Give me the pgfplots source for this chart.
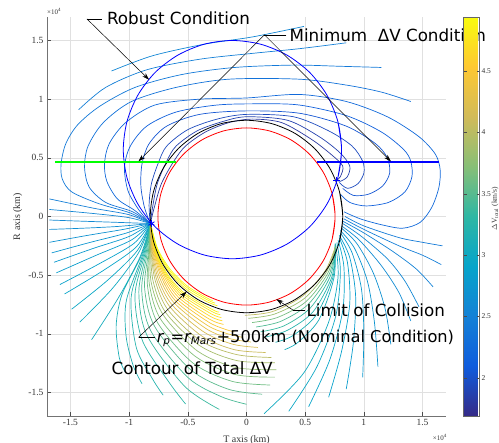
\documentclass[border=0pt]{standalone}
\usepackage{fontspec}
\setmainfont{Liberation Serif}
\newfontfamily\annfont{DejaVu Sans}
\usepackage{pgfplots}
\pgfplotsset{compat=1.18}
\usepgfplotslibrary{polar}
\usetikzlibrary{arrows.meta}

\definecolor{robgreen}{rgb}{0,1,0}
\definecolor{robblue}{rgb}{0,0,1}
\pgfplotsset{
  colormap={parula}{rgb255=(53,42,135) rgb255=(15,92,221) rgb255=(20,129,214)
    rgb255=(6,164,202) rgb255=(46,183,164) rgb255=(135,191,119)
    rgb255=(209,187,89) rgb255=(254,200,50) rgb255=(249,251,14)},
  ct/.style={color of colormap={#1}, line width=0.7pt, smooth, no markers},
}
% contour line, cartesian / polar (angle, radius) input
\newcommand\cc[2]{\addplot[ct=#1] coordinates {#2};}
\newcommand\cp[2]{\addplot[ct=#1, data cs=polar] coordinates {#2};}
\newcommand\ann{\annfont\fontsize{16.8}{20}\selectfont}
\newcommand\sub[1]{\textsubscript{\fontsize{10.5}{11}\selectfont\itshape #1}}
\tikzset{arr/.style={-{Stealth[length=7bp,width=4.5bp]}, line width=0.5pt, black}}

\begin{document}
\begin{tikzpicture}
\useasboundingbox (-47bp,-27bp) rectangle (452bp,416bp);
\begin{axis}[
  at={(0,0)}, anchor=south west,
  scale only axis, width=399bp, height=399bp,
  xmin=-1.7, xmax=1.7, ymin=-1.7, ymax=1.7,
  axis x line*=bottom, axis y line*=left,
  axis line style={black!55, line width=0.8pt},
  tick align=inside, major tick length=4bp,
  tick style={black!70},
  xtick={-1.5,-1,...,1.5}, ytick={-1.5,-1,...,1.5},
  grid=major, grid style={black!12, line width=0.5pt},
  ticklabel style={font=\fontsize{9.5}{11}\selectfont, text=black!80},
  /pgf/number format/assume math mode=true,
  xlabel={T axis (km)}, ylabel={R axis (km)},
  label style={font=\fontsize{10}{12}\selectfont, text=black!80},
  x label style={at={(axis description cs:0.5,-0.04)}, anchor=north},
  y label style={at={(axis description cs:-0.053,0.5)}, anchor=south},
  clip=false,
  colormap name=parula,
  point meta min=1.69, point meta max=4.94,
  colorbar,
  colorbar style={
    at={(parent axis.north east)}, anchor=north west, xshift=9bp,
    scale only axis, width=16bp, height=399bp,
    ytick={2,2.5,3,3.5,4,4.5},
    yticklabel style={font=\fontsize{7.5}{9}\selectfont, text=black!80, xshift=-1.5bp,
      /pgf/number format/assume math mode=true},
    ylabel={$\Delta$V\textsubscript{total} (km/s)},
    ylabel style={font=\fontsize{7.5}{9}\selectfont, text=black!80,
      at={(axis description cs:1.97,0.52)}, anchor=center},
    axis line style={black!60}, major tick length=3bp,
  },
]

% ---- upper loops (P1 -> over the top -> right hook)
\cc{35}{(-0.82,-0.06) (-0.785,0.08) (-0.725,0.28) (-0.62,0.47) (-0.52,0.6) (-0.35,0.72) (-0.15,0.8) (0.05,0.83) (0.3,0.8) (0.55,0.66) (0.72,0.53) (0.82,0.43) (0.8,0.34) (0.77,0.31)}
\cc{55}{(-0.82,-0.06) (-0.8,0.08) (-0.76,0.28) (-0.68,0.47) (-0.6,0.6) (-0.42,0.73) (-0.2,0.81) (0,0.85) (0.35,0.82) (0.62,0.68) (0.8,0.54) (0.88,0.43) (0.86,0.34) (0.8,0.3) (0.77,0.31)}
\cc{80}{(-0.82,-0.06) (-0.83,0.1) (-0.81,0.28) (-0.75,0.46) (-0.68,0.6) (-0.5,0.74) (-0.25,0.83) (0,0.87) (0.4,0.85) (0.7,0.73) (0.9,0.6) (0.99,0.47) (1.0,0.37) (0.95,0.28) (0.86,0.24) (0.79,0.29)}
\cc{110}{(-0.82,-0.06) (-0.87,0.08) (-0.9,0.26) (-0.89,0.45) (-0.83,0.62) (-0.68,0.77) (-0.4,0.87) (0,0.9) (0.45,0.88) (0.85,0.77) (1.1,0.62) (1.2,0.5) (1.22,0.37) (1.16,0.26) (1.04,0.19) (0.91,0.18) (0.82,0.24)}
\cc{140}{(-0.82,-0.06) (-0.92,0.06) (-1.01,0.22) (-1.04,0.42) (-0.99,0.6) (-0.85,0.77) (-0.6,0.89) (-0.25,0.95) (0.1,0.96) (0.45,0.95) (0.85,0.86) (1.15,0.72) (1.34,0.57) (1.4,0.47) (1.41,0.34) (1.35,0.21) (1.21,0.12) (1.02,0.09) (0.88,0.12) (0.8,0.19)}
\cc{170}{(-0.82,-0.06) (-0.95,0.05) (-1.1,0.15) (-1.19,0.3) (-1.21,0.45) (-1.17,0.62) (-1.03,0.8) (-0.78,0.95) (-0.4,1.0) (0,1.01) (0.45,1.04) (0.85,0.98) (1.2,0.85) (1.47,0.68) (1.61,0.53) (1.65,0.4) (1.64,0.25) (1.58,0.08) (1.48,-0.05) (1.33,-0.1) (1.15,-0.07) (0.97,-0.02) (0.83,0.04)}
\cc{200}{(-0.82,-0.06) (-0.97,0.04) (-1.2,0.12) (-1.34,0.25) (-1.38,0.42) (-1.35,0.6) (-1.22,0.8) (-0.98,0.98) (-0.6,1.1) (-0.15,1.17) (0.45,1.17) (0.85,1.12) (1.15,1.06) (1.4,0.98)}
\cc{222}{(-0.82,-0.06) (-0.99,0.03) (-1.26,0.11) (-1.49,0.21) (-1.57,0.32) (-1.58,0.45) (-1.54,0.62) (-1.44,0.78) (-1.25,0.94) (-0.95,1.1) (-0.55,1.21) (-0.1,1.27) (0.4,1.29) (0.8,1.28) (1.15,1.27)}
\cc{245}{(-0.82,-0.06) (-1.0,0.015) (-1.3,0.07) (-1.68,0.15)}
\cc{245}{(-1.43,0.91) (-1.2,1.1) (-0.85,1.25) (-0.4,1.34) (0.05,1.39) (0.45,1.43) (0.85,1.48)}
\cc{268}{(-0.82,-0.06) (-1.0,-0.01) (-1.3,0.025) (-1.68,0.06)}
\cc{268}{(-1.15,1.24) (-0.8,1.37) (-0.35,1.47) (0.05,1.53) (0.49,1.62)}
\cc{280}{(-0.82,-0.06) (-1.1,-0.05) (-1.4,-0.04) (-1.68,-0.03)}

% ---- lower-left rays from P1
\cc{295}{(-0.82,-0.06) (-1.1,-0.085) (-1.4,-0.1) (-1.68,-0.11)}
\cc{308}{(-0.82,-0.06) (-1.05,-0.11) (-1.35,-0.16) (-1.68,-0.22)}
\cc{322}{(-0.82,-0.06) (-1.02,-0.14) (-1.33,-0.22) (-1.66,-0.31)}
\cc{336}{(-0.82,-0.06) (-1.0,-0.17) (-1.3,-0.27) (-1.64,-0.39)}
\cc{350}{(-0.82,-0.06) (-0.98,-0.2) (-1.28,-0.33) (-1.62,-0.48)}
\cc{364}{(-0.82,-0.06) (-0.96,-0.23) (-1.25,-0.4) (-1.59,-0.58)}
\cc{378}{(-0.82,-0.06) (-0.94,-0.26) (-1.22,-0.46) (-1.55,-0.66)}
\cc{392}{(-0.82,-0.06) (-0.93,-0.29) (-1.18,-0.54) (-1.49,-0.79)}
\cc{406}{(-0.82,-0.06) (-0.92,-0.31) (-1.14,-0.61) (-1.42,-0.9)}
\cc{420}{(-0.82,-0.06) (-0.905,-0.34) (-1.09,-0.69) (-1.32,-1.05)}

% ---- lower arcs from P1 (angle, radius)
\cp{440}{(184,0.82) (200,0.95) (212,1.25) (220,1.45) (228,1.62) (232,1.68)}
\cp{455}{(184,0.82) (200,0.94) (215,1.25) (225,1.45) (233,1.6) (238,1.68)}
\cp{472}{(184,0.82) (200,0.93) (215,1.2) (230,1.46) (240,1.6) (245,1.68)}
\cp{492}{(184,0.82) (200,0.92) (215,1.16) (230,1.38) (245,1.56) (252,1.68)}
\cp{515}{(184,0.82) (200,0.91) (215,1.12) (230,1.32) (250,1.54) (262,1.66)}
\cp{540}{(184,0.82) (200,0.90) (215,1.09) (230,1.27) (250,1.46) (262,1.55) (270,1.6)}
\cp{565}{(184,0.82) (200,0.89) (215,1.06) (230,1.22) (250,1.39) (264,1.48) (275,1.52)}
\cp{592}{(184,0.82) (200,0.885) (215,1.03) (230,1.18) (250,1.33) (265,1.41) (278,1.45)}
\cp{620}{(184,0.82) (200,0.88) (215,1.01) (230,1.14) (250,1.27) (266,1.35) (280,1.39)}
\cp{650}{(184,0.82) (200,0.875) (215,0.99) (230,1.1) (250,1.22) (266,1.29) (281,1.33)}
\cp{680}{(184,0.82) (200,0.87) (215,0.97) (230,1.07) (250,1.17) (266,1.23) (281,1.27)}
\cp{710}{(184,0.82) (200,0.865) (215,0.95) (230,1.04) (250,1.13) (266,1.18) (280,1.22)}
\cp{740}{(184,0.82) (200,0.86) (215,0.935) (230,1.01) (250,1.09) (265,1.14) (278,1.17)}
\cp{770}{(184,0.82) (200,0.855) (215,0.92) (230,0.985) (250,1.05) (264,1.095) (275,1.12)}
\cp{800}{(184,0.82) (200,0.85) (215,0.905) (230,0.96) (250,1.015) (262,1.05) (272,1.07)}
\cp{830}{(184,0.82) (200,0.845) (215,0.89) (230,0.94) (250,0.985) (260,1.01) (268,1.03)}
\cp{860}{(184,0.82) (200,0.84) (215,0.878) (230,0.92) (250,0.955) (258,0.975) (264,0.99)}
\cp{885}{(184,0.82) (200,0.837) (215,0.866) (230,0.9) (250,0.93) (258,0.94)}
\cp{910}{(184,0.82) (200,0.834) (215,0.856) (230,0.882) (250,0.905) (257,0.912)}
\cp{935}{(184,0.82) (200,0.831) (215,0.848) (230,0.866) (250,0.882) (256,0.887)}
\cp{955}{(184,0.82) (200,0.828) (215,0.84) (230,0.852) (250,0.862) (255,0.865)}
\cp{972}{(184,0.82) (200,0.825) (215,0.833) (230,0.84) (250,0.845) (254,0.847)}
\cp{985}{(184,0.82) (200,0.815) (215,0.81) (230,0.805) (245,0.8) (252,0.8)}
\cp{993}{(184,0.82) (200,0.81) (215,0.8) (230,0.79) (245,0.785) (250,0.785)}
\cp{1000}{(184,0.82) (200,0.805) (215,0.79) (230,0.778) (245,0.772) (248,0.772)}

% ---- lower-right rays from P2
\cc{225}{(0.84,0.0) (1.0,-0.08) (1.3,-0.18) (1.5,-0.22) (1.67,-0.25)}
\cc{240}{(0.83,-0.02) (1.0,-0.11) (1.3,-0.25) (1.5,-0.33) (1.66,-0.41)}
\cc{255}{(0.82,-0.04) (1.0,-0.14) (1.25,-0.3) (1.45,-0.45) (1.59,-0.6)}
\cc{271}{(0.82,-0.06) (0.98,-0.17) (1.2,-0.36) (1.35,-0.55) (1.47,-0.77)}
\cc{286}{(0.81,-0.08) (0.96,-0.2) (1.15,-0.42) (1.3,-0.65) (1.4,-0.89)}
\cc{302}{(0.81,-0.1) (0.94,-0.23) (1.08,-0.48) (1.18,-0.78) (1.23,-1.09)}
\cc{317}{(0.8,-0.12) (0.92,-0.27) (1.03,-0.55) (1.09,-0.9) (1.12,-1.28)}
\cc{332}{(0.8,-0.14) (0.9,-0.31) (0.98,-0.62) (1.0,-1.0) (0.99,-1.37)}
\cc{348}{(0.79,-0.16) (0.88,-0.35) (0.93,-0.68) (0.91,-1.08) (0.85,-1.47)}
\cc{363}{(0.79,-0.18) (0.86,-0.39) (0.88,-0.74) (0.81,-1.15) (0.7,-1.54)}
\cc{378}{(0.78,-0.2) (0.83,-0.43) (0.82,-0.8) (0.71,-1.22) (0.53,-1.62)}
\cc{394}{(0.77,-0.22) (0.8,-0.47) (0.76,-0.85) (0.6,-1.28) (0.36,-1.66)}
\cc{409}{(0.76,-0.24) (0.78,-0.52) (0.7,-0.9) (0.49,-1.33) (0.15,-1.68)}

% ---- arcs from P2 round the bottom
\cp{425}{(343,0.79) (325,0.91) (305,1.075) (292,1.16) (286,1.18)}
\cp{445}{(343,0.79) (325,0.9) (305,1.03) (291,1.09) (283,1.1)}
\cp{475}{(342,0.795) (325,0.89) (305,0.99) (290,1.03) (279,1.04)}
\cp{510}{(342,0.795) (325,0.875) (305,0.95) (289,0.985) (277,0.99)}
\cp{550}{(342,0.8) (325,0.86) (305,0.915) (288,0.94) (275,0.945)}
\cp{600}{(341,0.8) (325,0.845) (305,0.885) (287,0.9) (273,0.905)}
\cp{660}{(341,0.8) (325,0.83) (305,0.855) (286,0.865) (271,0.868)}
\cp{720}{(340,0.8) (325,0.815) (305,0.83) (285,0.84) (269,0.842)}

% ---- circles
\addplot[red, line width=0.8pt, smooth, data cs=polar] coordinates {(-15,0.755) (0,0.755) (15,0.755) (30,0.755) (45,0.755) (60,0.755) (75,0.755) (90,0.755) (105,0.755) (120,0.755) (135,0.755) (150,0.755) (165,0.755) (180,0.755) (195,0.755) (210,0.755) (225,0.755) (240,0.755) (255,0.755) (270,0.755) (285,0.755) (300,0.755) (315,0.755) (330,0.755) (345,0.755) (360,0.755) (375,0.755)};
\addplot[black, line width=0.8pt, smooth, data cs=polar] coordinates {(-15,0.82) (0,0.82) (15,0.82) (30,0.82) (45,0.82) (60,0.82) (75,0.82) (90,0.82) (105,0.82) (120,0.82) (135,0.82) (150,0.82) (165,0.82) (180,0.82) (195,0.82) (210,0.82) (225,0.82) (240,0.82) (255,0.82) (270,0.82) (285,0.82) (300,0.82) (315,0.82) (330,0.82) (345,0.82) (360,0.82) (375,0.82)};
\addplot[robblue, line width=0.8pt, smooth] coordinates {(0.778,0.329) (0.81,0.57) (0.778,0.811) (0.685,1.035) (0.538,1.228) (0.345,1.375) (0.121,1.468) (-0.12,1.5) (-0.361,1.468) (-0.585,1.375) (-0.778,1.228) (-0.925,1.035) (-1.018,0.811) (-1.05,0.57) (-1.018,0.329) (-0.925,0.105) (-0.778,-0.088) (-0.585,-0.235) (-0.361,-0.328) (-0.12,-0.36) (0.121,-0.328) (0.345,-0.235) (0.538,-0.088) (0.685,0.105) (0.778,0.329) (0.81,0.57) (0.778,0.811)};

% ---- condition lines and points
\addplot[draw=robgreen, line width=2pt, mark=none] coordinates {(-1.63,0.468) (-0.6,0.468)};
\addplot[draw=robblue, line width=2pt, mark=none] coordinates {(0.6,0.468) (1.64,0.468)};
\addplot[robblue, only marks, mark=asterisk, mark size=3.5bp, line width=0.8pt] coordinates {(-0.81,-0.06)};
\addplot[robblue, only marks, mark=+, mark size=3.5bp, line width=0.8pt] coordinates {(0.77,0.31)};

% ---- annotations
\draw[line width=0.5pt] (axis cs:-1.23,1.684) -- (axis cs:-1.36,1.684);
\draw[arr] (axis cs:-1.36,1.684) -- (axis cs:-0.83,1.165);
\node[anchor=base west, inner sep=0] at (axis cs:-1.19,1.633) {\ann Robust Condition};

\draw[line width=0.5pt] (axis cs:0.34,1.548) -- (axis cs:0.153,1.548);
\draw[arr] (axis cs:0.153,1.548) -- (axis cs:-0.92,0.47);
\draw[arr] (axis cs:0.153,1.548) -- (axis cs:1.23,0.47);
\node[anchor=base west, inner sep=0] at (axis cs:0.366,1.488) {\ann Minimum~~ΔV Condition};

\draw[line width=0.5pt] (axis cs:0.495,-0.80) -- (axis cs:0.40,-0.80);
\draw[arr] (axis cs:0.40,-0.80) -- (axis cs:0.255,-0.705);
\node[anchor=base west, inner sep=0] at (axis cs:0.51,-0.85) {\ann Limit of Collision};

\draw[line width=0.5pt] (axis cs:-0.78,-1.03) -- (axis cs:-0.92,-1.03);
\draw[arr] (axis cs:-0.92,-1.03) -- (axis cs:-0.51,-0.64);
\node[anchor=base west, inner sep=0] at (axis cs:-0.766,-1.07) {\annfont\fontsize{16.3}{20}\selectfont {\itshape r}\sub{p}={\itshape r}\sub{Mars}+500km (Nominal Condition)};

\node[anchor=base west, inner sep=0] at (axis cs:-1.15,-1.343) {\ann Contour of Total ΔV};

\node[anchor=south west, inner sep=0, font=\fontsize{7}{8}\selectfont, text=black!80] at (rel axis cs:0,1) [yshift=2bp] {×10\textsuperscript{4}};
\node[anchor=north east, inner sep=0, font=\fontsize{7}{8}\selectfont, text=black!80] at (rel axis cs:1,0) [yshift=-18bp, xshift=1bp] {×10\textsuperscript{4}};
\end{axis}
\end{tikzpicture}
\end{document}
